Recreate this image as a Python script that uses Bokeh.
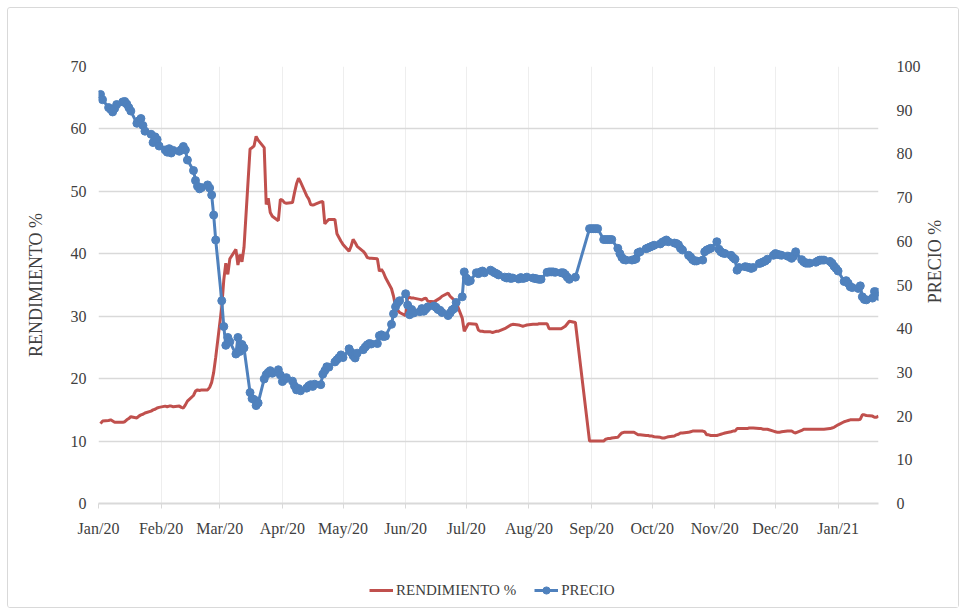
import math
import pandas as pd
from bokeh.plotting import figure
from bokeh.layouts import column
from bokeh.models import (ColumnDataSource, Range1d, LinearAxis, FixedTicker,
                          DatetimeTickFormatter, Legend, LegendItem)
from bokeh.embed import file_html
from bokeh.resources import INLINE

# ---------------- data ----------------
first_date = "2020-01-02"
last_date = "2021-01-21"
missing_dates = ["2020-08-25", "2020-08-26", "2020-08-27", "2020-08-28"]
tick_months = ["2020-01-01", "2020-02-01", "2020-03-01", "2020-04-01", "2020-05-01",
               "2020-06-01", "2020-07-01", "2020-08-01", "2020-09-01", "2020-10-01",
               "2020-11-01", "2020-12-01", "2021-01-01"]
left_ticks = [0, 10, 20, 30, 40, 50, 60, 70]
right_ticks = [0, 10, 20, 30, 40, 50, 60, 70, 80, 90, 100]

# RENDIMIENTO % (left axis), one value per trading day
rend_2020_01 = [12.8, 13.2, 13.3, 13.4, 13.2, 13.0, 13.0, 13.0, 13.1, 13.4, 13.6, 13.9, 13.7, 14.0, 14.2, 14.3, 14.5, 14.8, 15.0, 15.1, 15.3, 15.4]
rend_2020_02 = [15.6, 15.5, 15.6, 15.6, 15.5, 15.6, 15.4, 15.3, 15.8, 16.4, 17.3, 18.0, 18.2, 18.1, 18.2, 18.2, 18.6, 19.4, 21.0, 23.4]
rend_2020_03 = [31.5, 35.8, 38.5, 36.7, 39.2, 40.7, 38.2, 39.9, 38.7, 41.0, 56.8, 57.0, 57.3, 58.8, 58.2, 57.0, 47.9, 48.9, 46.6, 46.0, 45.3, 48.7]
rend_2020_04 = [48.6, 48.2, 48.1, 48.2, 49.8, 51.2, 52.1, 51.5, 49.3, 48.8, 47.9, 47.8, 47.9, 48.3, 48.4, 44.8, 45.2, 45.5, 45.5, 43.2, 42.6, 42.0]
rend_2020_05 = [41.5, 40.4, 41.2, 42.3, 41.8, 41.2, 40.4, 40.0, 39.4, 39.3, 39.3, 39.2, 37.2, 37.5, 37.0, 36.2, 34.4, 33.2, 31.6, 31.0, 30.6]
rend_2020_06 = [30.1, 33.2, 33.0, 32.9, 32.9, 32.7, 32.6, 32.8, 32.9, 32.4, 32.3, 32.5, 32.7, 32.9, 33.2, 33.7, 33.2, 32.9, 32.6, 32.2, 29.7, 27.6]
rend_2020_07 = [28.2, 28.8, 28.8, 28.7, 27.8, 27.6, 27.6, 27.5, 27.5, 27.4, 27.5, 27.6, 27.6, 28.0, 28.2, 28.4, 28.6, 28.7, 28.6, 28.5, 28.4, 28.5, 28.6]
rend_2020_08 = [28.7, 28.7, 28.7, 28.8, 28.8, 28.8, 28.0, 28.0, 28.0, 28.0, 28.0, 28.2, 28.4, 28.8, 29.2, 29.0, 10.0]
rend_2020_09 = [10.0, 10.0, 10.0, 10.0, 10.0, 10.3, 10.4, 10.4, 10.5, 10.6, 11.0, 11.3, 11.4, 11.4, 11.4, 11.4, 11.2, 11.0, 11.0, 10.9, 10.9, 10.8]
rend_2020_10 = [10.8, 10.7, 10.6, 10.5, 10.5, 10.6, 10.7, 10.8, 11.0, 11.1, 11.3, 11.3, 11.4, 11.5, 11.6, 11.6, 11.6, 11.6, 11.5, 11.0, 11.0, 10.9]
rend_2020_11 = [10.9, 11.0, 11.1, 11.2, 11.3, 11.5, 11.6, 11.6, 12.0, 12.0, 12.0, 12.0, 12.1, 12.1, 12.1, 12.0, 12.0, 11.9, 11.9, 11.9, 11.6]
rend_2020_12 = [11.5, 11.4, 11.4, 11.5, 11.6, 11.6, 11.6, 11.4, 11.3, 11.7, 11.9, 11.9, 11.9, 11.9, 11.9, 11.9, 11.9, 11.9, 11.9, 12.0, 12.1, 12.2, 12.4]
rend_2021_01 = [12.6, 13.1, 13.2, 13.3, 13.4, 13.4, 13.4, 13.5, 14.2, 14.2, 14.1, 14.0, 13.8, 13.8, 14.0]

# PRECIO (right axis)
precio_2020_01 = [93.6, 92.4, 90.6, 90.2, 89.6, 90.4, 91.3, 91.9, 92.0, 91.4, 90.6, 89.8, 87.0, 87.6, 88.1, 86.5, 85.2, 84.5, 82.6, 83.9, 83.3, 81.8]
precio_2020_02 = [80.9, 80.4, 81.2, 80.2, 80.8, 80.6, 81.0, 81.7, 80.9, 78.6, 76.2, 73.9, 72.6, 72.0, 72.3, 72.9, 72.2, 70.6, 66.0, 60.3]
precio_2020_03 = [46.4, 40.5, 36.2, 38.0, 37.0, 34.2, 38.0, 34.8, 36.4, 35.6, 25.4, 24.0, 23.8, 22.4, 23.0, 28.5, 29.5, 30.0, 30.4, 29.8, 30.6, 29.4]
precio_2020_04 = [27.9, 28.4, 28.8, 28.0, 26.9, 26.0, 26.3, 25.8, 26.4, 26.9, 27.2, 26.8, 27.3, 27.2, 29.6, 30.4, 31.3, 31.2, 32.4, 32.9, 33.4, 34.0]
precio_2020_05 = [33.4, 35.4, 34.6, 33.8, 33.3, 34.4, 35.2, 35.8, 36.3, 36.6, 36.5, 36.6, 38.4, 38.6, 38.2, 38.3, 41.0, 43.4, 45.0, 45.9, 46.4]
precio_2020_06 = [48.0, 45.4, 43.2, 44.4, 43.6, 43.9, 44.6, 44.0, 44.5, 45.0, 45.2, 44.9, 44.4, 44.2, 43.7, 43.0, 43.6, 44.3, 44.6, 46.0, 47.3, 53.0]
precio_2020_07 = [51.6, 50.8, 51.0, 52.8, 52.6, 53.0, 53.2, 52.8, 53.4, 53.1, 52.8, 52.6, 52.3, 51.8, 51.6, 51.8, 51.5, 51.6, 51.4, 51.7, 51.5, 51.6, 51.8]
precio_2020_08 = [51.6, 51.5, 51.4, 51.3, 51.3, 52.9, 53.0, 53.0, 53.0, 52.9, 52.8, 52.8, 52.4, 51.8, 51.3, 51.8, 62.9]
precio_2020_09 = [62.9, 62.9, 62.9, 62.9, 60.4, 60.4, 60.4, 60.4, 60.4, 58.4, 57.2, 56.3, 55.8, 55.7, 55.7, 55.8, 56.0, 57.4, 57.6, 58.3, 58.5, 58.7]
precio_2020_10 = [58.9, 59.1, 59.4, 59.8, 60.0, 60.3, 59.9, 59.6, 59.5, 59.2, 58.4, 58.0, 56.8, 56.4, 55.8, 55.5, 55.5, 55.7, 57.6, 58.0, 58.2, 58.4]
precio_2020_11 = [59.9, 58.2, 57.6, 57.3, 57.2, 56.8, 56.3, 55.9, 53.4, 54.0, 54.2, 54.1, 54.0, 53.8, 54.0, 54.9, 55.1, 55.3, 55.5, 55.9, 56.8]
precio_2020_12 = [57.2, 57.0, 56.9, 56.8, 56.6, 56.5, 56.1, 56.6, 57.6, 55.8, 55.3, 55.0, 55.0, 55.0, 55.2, 55.5, 55.7, 55.7, 55.7, 55.4, 55.0, 54.3, 53.8]
precio_2021_01 = [53.2, 50.8, 51.0, 50.4, 49.6, 49.4, 49.2, 49.8, 47.3, 46.7, 46.6, 47.0, 48.5, 48.4, 47.4]

rend_months = [rend_2020_01, rend_2020_02, rend_2020_03, rend_2020_04, rend_2020_05, rend_2020_06,
               rend_2020_07, rend_2020_08, rend_2020_09, rend_2020_10, rend_2020_11, rend_2020_12, rend_2021_01]
precio_months = [precio_2020_01, precio_2020_02, precio_2020_03, precio_2020_04, precio_2020_05, precio_2020_06,
                 precio_2020_07, precio_2020_08, precio_2020_09, precio_2020_10, precio_2020_11, precio_2020_12, precio_2021_01]

# ---------------- build ----------------
all_days = pd.bdate_range(first_date, last_date)
all_days = all_days[~all_days.isin(pd.to_datetime(missing_dates))]
dates, rend, precio = [], [], []
for m, rv, pv in zip(tick_months, rend_months, precio_months):
    ms = pd.Timestamp(m)
    md = all_days[(all_days.year == ms.year) & (all_days.month == ms.month)]
    if len(md) != len(rv) or len(md) != len(pv):
        raise ValueError(f"{m}: {len(md)} days, {len(rv)} rend, {len(pv)} precio")
    dates.extend(md)
    rend.extend(rv)
    precio.extend(pv)

src = ColumnDataSource(dict(date=dates, rend=rend, precio=precio))

RED = "#C0504D"
BLUE = "#4F81BD"
TXT = "#404040"
FONT = "Liberation Serif"

W = 950
H1 = 540
H2 = 59
p = figure(width=W, height=H1, x_axis_type="datetime",
           x_range=Range1d(pd.Timestamp("2020-01-01"), pd.Timestamp(last_date)),
           y_range=Range1d(0, 70),
           output_backend="svg", toolbar_location=None,
           min_border_left=90, min_border_right=W - 874,
           min_border_top=58, min_border_bottom=H1 - 58 - 437)
p.outline_line_color = None
p.background_fill_color = "white"
p.border_fill_color = "white"

xt = FixedTicker(ticks=[pd.Timestamp(t).timestamp() * 1000 for t in tick_months])
xa = p.xaxis[0]
xa.ticker = xt
fmt = "%b/%y"
xa.formatter = DatetimeTickFormatter(microseconds=fmt, milliseconds=fmt, seconds=fmt, minsec=fmt,
                                     minutes=fmt, hourmin=fmt, hours=fmt, days=fmt,
                                     months=fmt, years=fmt)
xa.axis_line_color = "#d9d9d9"
xa.axis_line_width = 2
xa.major_tick_line_color = "#d9d9d9"
xa.major_tick_out = 5
xa.major_tick_in = 0
xa.minor_tick_line_color = None
xa.major_label_standoff = 11
xa.major_label_text_font = FONT
xa.major_label_text_font_size = "16px"
xa.major_label_text_color = TXT

ya = p.yaxis[0]
ya.ticker = FixedTicker(ticks=left_ticks)
ya.axis_line_color = None
ya.major_tick_line_color = None
ya.minor_tick_line_color = None
ya.major_tick_out = 0
ya.major_label_standoff = 12
ya.major_label_text_font = FONT
ya.major_label_text_font_size = "16px"
ya.major_label_text_color = TXT
ya.axis_label = "RENDIMIENTO %"
ya.axis_label_standoff = 22
ya.axis_label_text_font = FONT
ya.axis_label_text_font_size = "18px"
ya.axis_label_text_font_style = "normal"
ya.axis_label_text_color = TXT

p.extra_y_ranges = {"precio": Range1d(0, 100)}
ra = LinearAxis(y_range_name="precio", ticker=FixedTicker(ticks=right_ticks),
                axis_line_color=None, major_tick_line_color=None, minor_tick_line_color=None,
                major_tick_out=0, major_label_standoff=18,
                major_label_text_font=FONT, major_label_text_font_size="16px",
                major_label_text_color=TXT)
p.add_layout(ra, "right")

# second right axis whose single tick label is the axis title, placed at the title's height
title_pos = 45.8
rt = LinearAxis(y_range_name="precio", ticker=FixedTicker(ticks=[title_pos]),
                major_label_overrides={title_pos: "PRECIO %"},
                major_label_orientation=math.pi / 2,
                axis_line_color=None, major_tick_line_color=None, minor_tick_line_color=None,
                major_tick_out=0, major_label_standoff=12,
                major_label_text_font=FONT, major_label_text_font_size="18px",
                major_label_text_color=TXT)
p.add_layout(rt, "right")

p.xgrid.ticker = xt
p.xgrid.grid_line_color = "#eeeeee"
p.xgrid.grid_line_width = 1
p.ygrid.ticker = FixedTicker(ticks=left_ticks)
p.ygrid.grid_line_color = "#d9d9d9"
p.ygrid.grid_line_width = 1.5

p.line("date", "rend", source=src, line_color=RED, line_width=3)
p.line("date", "precio", source=src, y_range_name="precio", line_color=BLUE, line_width=3)
p.scatter("date", "precio", source=src, y_range_name="precio", size=8,
          fill_color=BLUE, line_color=BLUE)

# legend strip below the chart (legend swatches use off-screen stand-in renderers)
p2 = figure(width=W, height=H2, x_range=Range1d(0, 1), y_range=Range1d(0, 1),
            output_backend="svg", toolbar_location=None, min_border=0,
            x_axis_location=None, y_axis_location=None)
p2.xgrid.visible = False
p2.ygrid.visible = False
p2.outline_line_color = None
p2.background_fill_color = "white"
p2.border_fill_color = "white"
lr = p2.line(x=[-5, -4], y=[-5, -4], line_color=RED, line_width=3)
lb = p2.line(x=[-5, -4], y=[-5, -4], line_color=BLUE, line_width=3)
ls = p2.scatter(x=[-5], y=[-5], size=8, fill_color=BLUE, line_color=BLUE)
legend = Legend(items=[LegendItem(label="RENDIMIENTO %", renderers=[lr]),
                       LegendItem(label="PRECIO", renderers=[lb, ls])],
                location=(271, 8), orientation="horizontal",
                padding=0, margin=0, spacing=18, glyph_width=24, glyph_height=18,
                label_height=18, label_standoff=3,
                label_text_font=FONT, label_text_font_size="15px", label_text_color=TXT,
                border_line_color=None, background_fill_alpha=0)
p2.add_layout(legend)

layout = column(p, p2, spacing=0,
                styles={"border": "1px solid #d9d9d9", "border-radius": "3px",
                        "margin": "7px 0 0 7px"})

open("out.html", "w").write(file_html(layout, INLINE))
